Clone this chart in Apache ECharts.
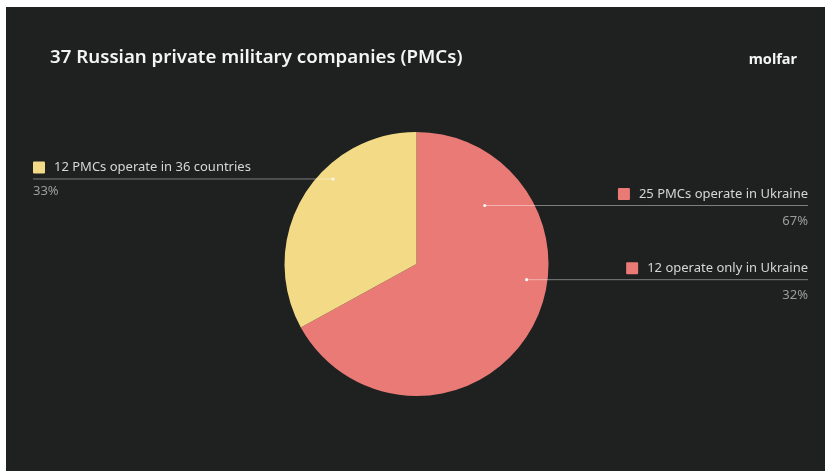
<!DOCTYPE html>
<html>
<head>
<meta charset="utf-8">
<script src="https://cdn.jsdelivr.net/npm/echarts@6/dist/echarts.min.js"></script>
<style>
  html, body { margin: 0; padding: 0; background: #ffffff; }
  #main { position: absolute; left: 6px; top: 7px; width: 819px; height: 464px; }
</style>
</head>
<body>
<div id="main"></div>
<script>
const chartDom = document.getElementById('main');
const myChart = echarts.init(chartDom);

// data
const sliceNames = ['25 PMCs operate in Ukraine', '12 PMCs operate in 36 countries'];
const sliceShares = [67, 33];
const sliceColors = ['#ea7a76', '#f3da86'];
const subsetName = '12 operate only in Ukraine';
const subsetShare = 32;

// layout
const pieCenter = [410.5, 257];
const pieRadius = 132;
const font = '"Noto Sans", "Open Sans", sans-serif';
// where each label line starts inside the pie: [angle clockwise from top, fraction of radius]
const anchors = {
    'main-0': [49.4, 0.681],
    'main-1': [315.5, 0.903],
    'sub-0': [98.1, 0.843]
};
const leftEdge = 27;
const rightEdge = 802;

anchorPoint = (key) => {
    const a = anchors[key][0] * Math.PI / 180;
    const r = anchors[key][1] * pieRadius;
    return [pieCenter[0] + Math.sin(a) * r, pieCenter[1] - Math.cos(a) * r];
}

const rich = {
    sq0: { width: 12, height: 12, backgroundColor: sliceColors[0], borderRadius: 1 },
    sq1: { width: 12, height: 12, backgroundColor: sliceColors[1], borderRadius: 1 },
    name: { color: '#d6d6d6', fontSize: 13, fontFamily: font, lineHeight: 27, padding: [0, 0, 0, 9] },
    pctR: { color: '#9c9c9c', fontSize: 13, fontFamily: font, lineHeight: 28 },
    pctL: { color: '#9c9c9c', fontSize: 13, fontFamily: font, lineHeight: 21 }
};

layoutLabel = (params) => {
    const key = (params.seriesIndex === 2 ? 'sub-' : 'main-') + params.dataIndex;
    if (!anchors[key]) return {};
    const p = anchorPoint(key);
    const isLeft = p[0] < pieCenter[0];
    const edge = isLeft ? leftEdge : rightEdge;
    return {
        x: edge,
        y: p[1] - 25,
        align: isLeft ? 'left' : 'right',
        verticalAlign: 'top',
        labelLinePoints: [p, [(p[0] + edge) / 2, p[1]], [edge, p[1]]]
    };
}

const mainData = sliceNames.map((name, i) => ({
    name,
    value: sliceShares[i],
    itemStyle: { color: sliceColors[i] }
}));

// transparent copy on top that carries the labels, so the lines run over the slices
const labelData = sliceNames.map((name, i) => ({
    name,
    value: sliceShares[i],
    label: {
        formatter: `{sq${i}|}{name|${name}}\n{${i === 1 ? 'pctL' : 'pctR'}|${sliceShares[i]}%}`
    }
}));

const subData = [
    {
        name: subsetName,
        value: subsetShare,
        label: { show: true, formatter: `{sq0|}{name|${subsetName}}\n{pctR|${subsetShare}%}` },
        labelLine: { show: true }
    },
    {
        name: 'rest',
        value: 100 - subsetShare,
        label: { show: false },
        labelLine: { show: false }
    }
];

const dots = Object.keys(anchors).map((key) => {
    const p = anchorPoint(key);
    return {
        type: 'circle',
        shape: { cx: p[0], cy: p[1], r: 1.6 },
        style: { fill: '#f6f6f6' },
        z: 100,
        silent: true
    };
});

const labelLine = {
    show: true,
    lineStyle: { color: 'rgba(255,255,255,0.42)', width: 1 }
};

const overlay = {
    type: 'pie',
    z: 5,
    center: pieCenter,
    radius: pieRadius,
    startAngle: 90,
    clockwise: true,
    silent: true,
    emphasis: { disabled: true },
    itemStyle: { color: 'transparent', borderWidth: 0 },
    label: { show: true, rich },
    labelLine,
    labelLayout: layoutLabel
};

myChart.setOption({
    backgroundColor: '#1f2120',
    animation: false,
    title: [
        {
            text: '37 Russian private military companies (PMCs)',
            left: 39,
            top: 36,
            textStyle: { color: '#f4f4f4', fontSize: 18.7, fontWeight: 600, fontFamily: font }
        },
        {
            text: 'molfar',
            right: 23,
            top: 40,
            textStyle: { color: '#f4f4f4', fontSize: 14.5, fontWeight: 'bold', fontFamily: font }
        }
    ],
    graphic: dots,
    series: [
        {
            type: 'pie',
            center: pieCenter,
            radius: pieRadius,
            startAngle: 90,
            clockwise: true,
            silent: true,
            emphasis: { disabled: true },
            itemStyle: { borderWidth: 0 },
            label: { show: false },
            labelLine: { show: false },
            data: mainData
        },
        Object.assign({}, overlay, { data: labelData }),
        Object.assign({}, overlay, { data: subData })
    ]
});

window.addEventListener('resize', () => {
    myChart.resize();
});
</script>
</body>
</html>
